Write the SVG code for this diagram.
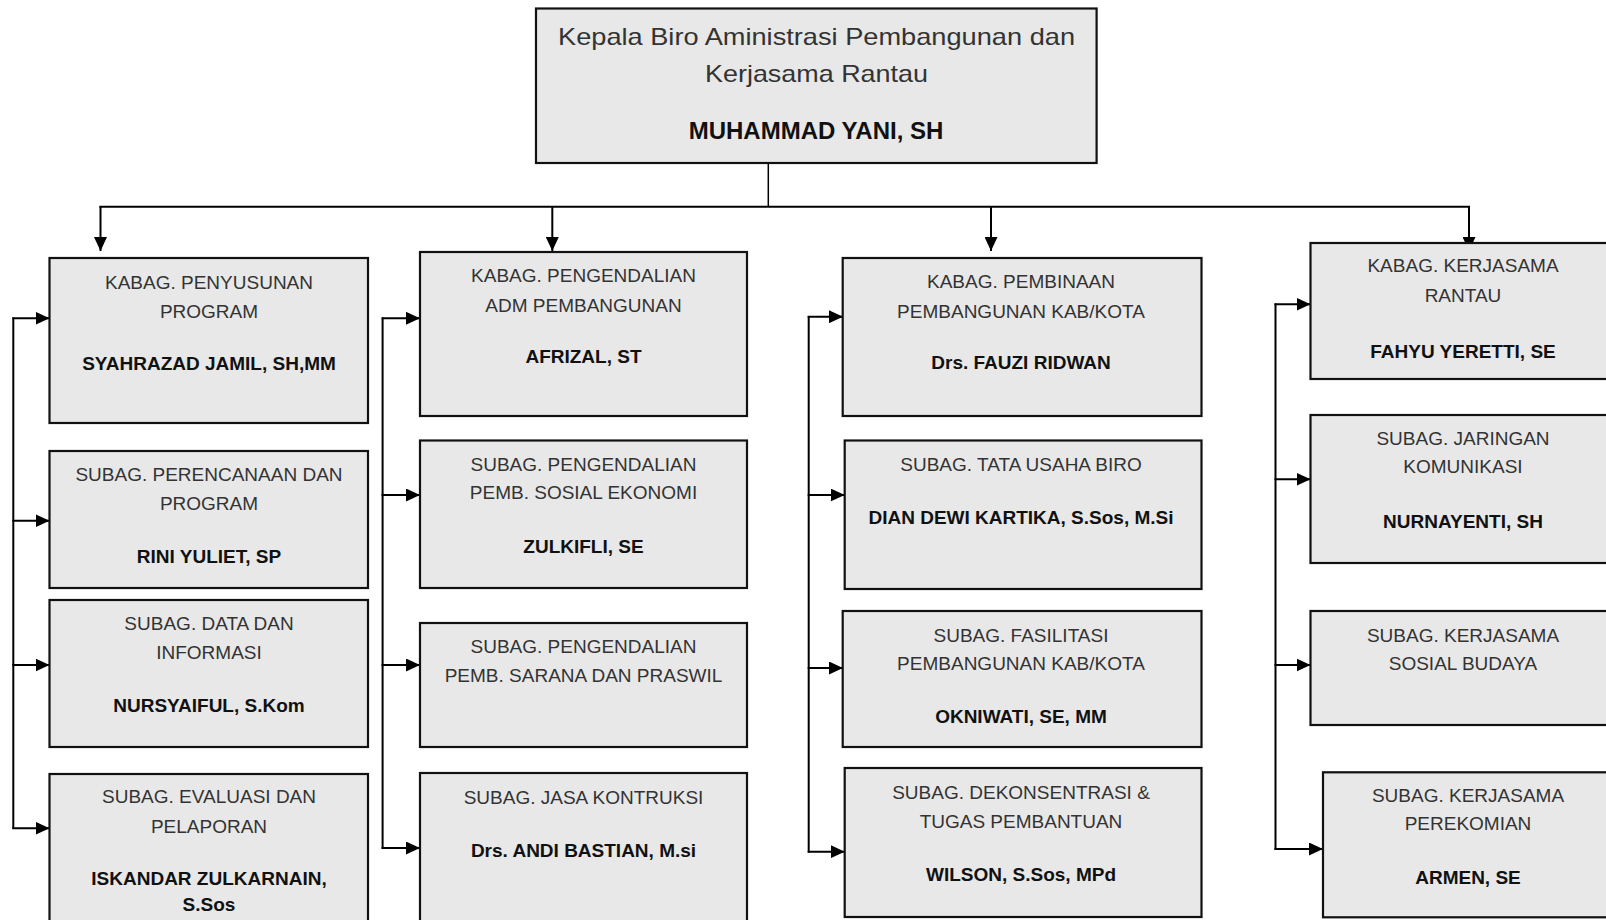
<svg xmlns="http://www.w3.org/2000/svg" width="1606" height="920" viewBox="0 0 1606 920">
<defs>
<marker id="ah" markerUnits="userSpaceOnUse" markerWidth="14" markerHeight="13" refX="14" refY="6.5" orient="auto">
<path d="M0,0 L14,6.5 L0,13 z" fill="#000"/>
</marker>
<style>
.box{fill:#e8e8e8;stroke:#111;stroke-width:2.2}
.t{font-family:"Liberation Sans",Arial,sans-serif;font-size:19px;fill:#333;text-anchor:middle}
.b{font-family:"Liberation Sans",Arial,sans-serif;font-size:19px;font-weight:bold;fill:#111;text-anchor:middle}
.big{font-size:24px}
.c{fill:none;stroke:#000;stroke-width:2}
.a{fill:none;stroke:#000;stroke-width:2;marker-end:url(#ah)}
</style>
</defs>
<rect width="1606" height="920" fill="#fff"/>

<g id="connectors">
<line class="c" x1="768.3" y1="163" x2="768.3" y2="206.7" style="stroke-width:1.5"/>
<line class="c" x1="99.5" y1="206.7" x2="1470" y2="206.7"/>
<line class="a" x1="100.5" y1="206" x2="100.5" y2="251"/>
<line class="a" x1="552.3" y1="206" x2="552.3" y2="251"/>
<line class="a" x1="991" y1="206" x2="991" y2="251"/>
<line class="a" x1="1469" y1="206" x2="1469" y2="251"/>

<line class="c" x1="13.3" y1="317.5" x2="13.3" y2="829"/>
<line class="a" x1="12.3" y1="318.3" x2="49.5" y2="318.3"/>
<line class="a" x1="12.3" y1="520.7" x2="49.5" y2="520.7"/>
<line class="a" x1="12.3" y1="665" x2="49.5" y2="665"/>
<line class="a" x1="12.3" y1="828.3" x2="49.5" y2="828.3"/>

<line class="c" x1="382.6" y1="317.5" x2="382.6" y2="849"/>
<line class="a" x1="381.6" y1="318.3" x2="420" y2="318.3"/>
<line class="a" x1="381.6" y1="495" x2="420" y2="495"/>
<line class="a" x1="381.6" y1="665" x2="420" y2="665"/>
<line class="a" x1="381.6" y1="848" x2="420" y2="848"/>

<line class="c" x1="808.7" y1="316" x2="808.7" y2="852.5"/>
<line class="a" x1="807.7" y1="316.7" x2="843" y2="316.7"/>
<line class="a" x1="807.7" y1="495" x2="844.7" y2="495"/>
<line class="a" x1="807.7" y1="668" x2="843" y2="668"/>
<line class="a" x1="807.7" y1="851.7" x2="844.7" y2="851.7"/>

<line class="c" x1="1275.5" y1="303.5" x2="1275.5" y2="850"/>
<line class="a" x1="1274.5" y1="304.3" x2="1310.5" y2="304.3"/>
<line class="a" x1="1274.5" y1="479.3" x2="1310.5" y2="479.3"/>
<line class="a" x1="1274.5" y1="665" x2="1310.5" y2="665"/>
<line class="a" x1="1274.5" y1="849" x2="1323" y2="849"/>
</g>

<g id="kepala">
<rect class="box" x="536" y="8.5" width="560.6" height="154.5"/>
<text class="t big" x="816.5" y="45" textLength="517" lengthAdjust="spacingAndGlyphs">Kepala Biro Aministrasi Pembangunan dan</text>
<text class="t big" x="816.5" y="82" textLength="223" lengthAdjust="spacingAndGlyphs">Kerjasama Rantau</text>
<text class="b big" x="816" y="139">MUHAMMAD YANI, SH</text>
</g>

<g id="kabag-penyusunan">
<rect class="box" x="49.5" y="258" width="318.5" height="165"/>
<text class="t" x="209" y="289">KABAG. PENYUSUNAN</text>
<text class="t" x="209" y="318">PROGRAM</text>
<text class="b" x="209" y="370">SYAHRAZAD JAMIL, SH,MM</text>
</g>
<g id="subag-perencanaan">
<rect class="box" x="49.5" y="451" width="318.5" height="137"/>
<text class="t" x="209" y="480.7">SUBAG. PERENCANAAN DAN</text>
<text class="t" x="209" y="510">PROGRAM</text>
<text class="b" x="209" y="563">RINI YULIET, SP</text>
</g>
<g id="subag-data">
<rect class="box" x="49.5" y="600" width="318.5" height="147"/>
<text class="t" x="209" y="630">SUBAG. DATA DAN</text>
<text class="t" x="209" y="659">INFORMASI</text>
<text class="b" x="209" y="711.7">NURSYAIFUL, S.Kom</text>
</g>
<g id="subag-evaluasi">
<rect class="box" x="49.5" y="774" width="318.5" height="170"/>
<text class="t" x="209" y="803">SUBAG. EVALUASI DAN</text>
<text class="t" x="209" y="832.7">PELAPORAN</text>
<text class="b" x="209" y="885">ISKANDAR ZULKARNAIN,</text>
<text class="b" x="209" y="910.7">S.Sos</text>
</g>

<g id="kabag-pengendalian">
<rect class="box" x="420" y="252" width="327" height="164"/>
<text class="t" x="583.5" y="281.7">KABAG. PENGENDALIAN</text>
<text class="t" x="583.5" y="311.7">ADM PEMBANGUNAN</text>
<text class="b" x="583.5" y="362.7">AFRIZAL, ST</text>
</g>
<g id="subag-sosial-ekonomi">
<rect class="box" x="420" y="440.5" width="327" height="147.5"/>
<text class="t" x="583.5" y="470.7">SUBAG. PENGENDALIAN</text>
<text class="t" x="583.5" y="499">PEMB. SOSIAL EKONOMI</text>
<text class="b" x="583.5" y="552.7">ZULKIFLI, SE</text>
</g>
<g id="subag-sarana">
<rect class="box" x="420" y="623" width="327" height="124"/>
<text class="t" x="583.5" y="653">SUBAG. PENGENDALIAN</text>
<text class="t" x="583.5" y="681.7">PEMB. SARANA DAN PRASWIL</text>
</g>
<g id="subag-jasa">
<rect class="box" x="420" y="773" width="327" height="171"/>
<text class="t" x="583.5" y="804">SUBAG. JASA KONTRUKSI</text>
<text class="b" x="583.5" y="857">Drs. ANDI BASTIAN, M.si</text>
</g>

<g id="kabag-pembinaan">
<rect class="box" x="842.7" y="258" width="358.8" height="158"/>
<text class="t" x="1021" y="288">KABAG. PEMBINAAN</text>
<text class="t" x="1021" y="318">PEMBANGUNAN KAB/KOTA</text>
<text class="b" x="1021" y="369">Drs. FAUZI RIDWAN</text>
</g>
<g id="subag-tata-usaha">
<rect class="box" x="844.7" y="440.5" width="356.8" height="148.5"/>
<text class="t" x="1021" y="470.7">SUBAG. TATA USAHA BIRO</text>
<text class="b" x="1021" y="524">DIAN DEWI KARTIKA, S.Sos, M.Si</text>
</g>
<g id="subag-fasilitasi">
<rect class="box" x="842.7" y="611" width="358.8" height="136"/>
<text class="t" x="1021" y="641.7">SUBAG. FASILITASI</text>
<text class="t" x="1021" y="670">PEMBANGUNAN KAB/KOTA</text>
<text class="b" x="1021" y="722.7">OKNIWATI, SE, MM</text>
</g>
<g id="subag-dekonsentrasi">
<rect class="box" x="844.7" y="768" width="356.8" height="149"/>
<text class="t" x="1021" y="799">SUBAG. DEKONSENTRASI &amp;</text>
<text class="t" x="1021" y="827.7">TUGAS PEMBANTUAN</text>
<text class="b" x="1021" y="880.7">WILSON, S.Sos, MPd</text>
</g>

<g id="kabag-kerjasama">
<rect class="box" x="1310.5" y="243" width="306" height="136"/>
<text class="t" x="1463" y="272.3">KABAG. KERJASAMA</text>
<text class="t" x="1463" y="301.7">RANTAU</text>
<text class="b" x="1463" y="357.7">FAHYU YERETTI, SE</text>
</g>
<g id="subag-jaringan">
<rect class="box" x="1310.5" y="415" width="306" height="148"/>
<text class="t" x="1463" y="444.5">SUBAG. JARINGAN</text>
<text class="t" x="1463" y="473.3">KOMUNIKASI</text>
<text class="b" x="1463" y="528">NURNAYENTI, SH</text>
</g>
<g id="subag-sosial-budaya">
<rect class="box" x="1310.5" y="611" width="306" height="114"/>
<text class="t" x="1463" y="641.7">SUBAG. KERJASAMA</text>
<text class="t" x="1463" y="670">SOSIAL BUDAYA</text>
</g>
<g id="subag-perekomian">
<rect class="box" x="1323" y="772.3" width="293" height="145"/>
<text class="t" x="1468" y="801.7">SUBAG. KERJASAMA</text>
<text class="t" x="1468" y="830">PEREKOMIAN</text>
<text class="b" x="1468" y="884">ARMEN, SE</text>
</g>
</svg>
